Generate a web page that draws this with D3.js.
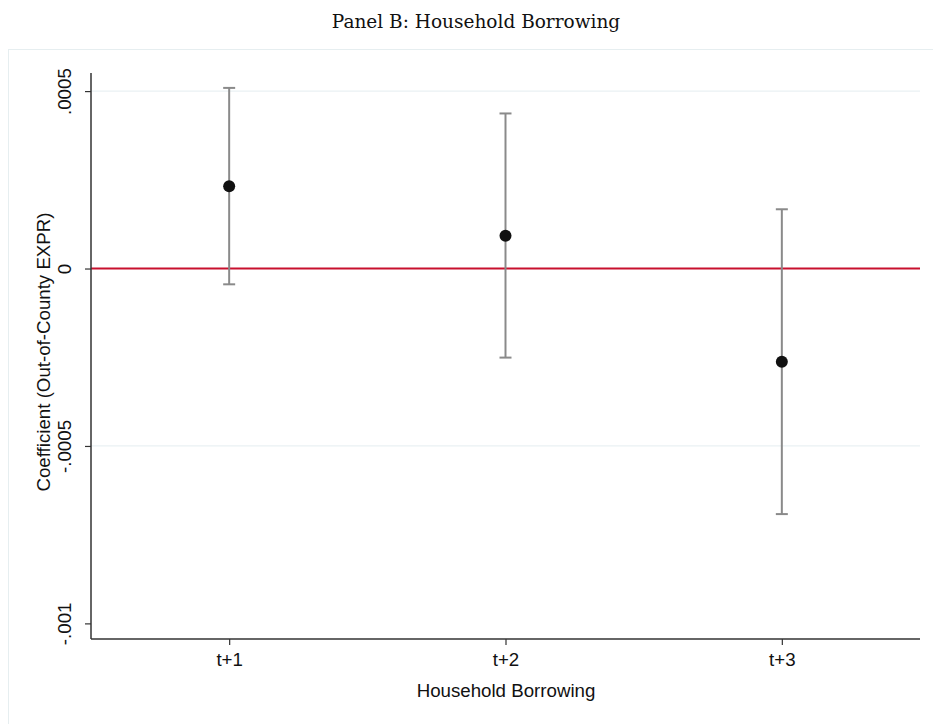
<!DOCTYPE html>
<html><head><meta charset="utf-8">
<script src="https://cdn.jsdelivr.net/npm/d3@7"></script>
<style>body{margin:0;background:#fff}</style>
</head><body>
<svg id="chart" width="933" height="724"></svg>
<script>
const categories = ["t+1", "t+2", "t+3"];
const estimates = [0.000232, 0.0000924, -0.000263];
const ciLow = [-0.0000445, -0.000251, -0.000692];
const ciHigh = [0.000509, 0.000437, 0.000167];
const yTicks = [0.0005, 0, -0.0005, -0.001];
const yTickLabels = [".0005", "0", "-.0005", "-.001"];
const gridTicks = [0.0005, -0.0005];

const SANS = "Liberation Sans, Arial, sans-serif";
const FS = 18.7;
const svg = d3.select("#chart");
svg.append("rect").attr("x", 8.5).attr("y", 49.5).attr("width", 940).attr("height", 700)
  .attr("fill", "#fff").attr("stroke", "#e6eef0").attr("stroke-width", 1);

const x = d3.scalePoint().domain(categories).range([91, 920]).padding(0.5);
const y = d3.scaleLinear().domain([-0.001044, 0.000551]).range([639, 73]);

// grid
svg.append("g").selectAll("line").data(gridTicks).join("line")
  .attr("x1", 91).attr("x2", 920).attr("y1", d => y(d)).attr("y2", d => y(d))
  .attr("stroke", "#eaf1f3").attr("stroke-width", 1.2);

// zero line
svg.append("line").attr("x1", 91).attr("x2", 920).attr("y1", y(0)).attr("y2", y(0))
  .attr("stroke", "#c8102e").attr("stroke-width", 2);

// y axis
const yAxis = svg.append("g").attr("transform", "translate(91,0)")
  .call(d3.axisLeft(y).tickValues(yTicks).tickSize(6).tickFormat((d, i) => yTickLabels[i]));
yAxis.select(".domain").attr("stroke", "#333").attr("stroke-width", 1.5).attr("d", `M0,${y.range()[1]}V${y.range()[0]}`);
yAxis.selectAll(".tick line").attr("stroke", "#333").attr("stroke-width", 1.2);
yAxis.selectAll(".tick text")
  .attr("font-family", SANS).attr("font-size", FS).attr("fill", "#111")
  .attr("transform", "rotate(-90)").attr("x", 0).attr("y", -20).attr("dy", 0)
  .attr("text-anchor", "middle");

// x axis
const xAxis = svg.append("g").attr("transform", "translate(0,639)")
  .call(d3.axisBottom(x).tickSize(6));
xAxis.select(".domain").attr("stroke", "#333").attr("stroke-width", 1.5).attr("d", "M91,0H920");
xAxis.selectAll(".tick line").attr("stroke", "#333").attr("stroke-width", 1.2);
xAxis.selectAll(".tick text")
  .attr("font-family", SANS).attr("font-size", FS).attr("fill", "#111")
  .attr("y", 27).attr("dy", 0);

// CI
const g = svg.append("g");
categories.forEach((c, i) => {
  const cx = x(c);
  g.append("line").attr("x1", cx).attr("x2", cx).attr("y1", y(ciLow[i])).attr("y2", y(ciHigh[i]))
    .attr("stroke", "#8a8a8a").attr("stroke-width", 2);
  [ciLow[i], ciHigh[i]].forEach(v => {
    g.append("line").attr("x1", cx - 6).attr("x2", cx + 6).attr("y1", y(v)).attr("y2", y(v))
      .attr("stroke", "#8a8a8a").attr("stroke-width", 2);
  });
});
g.selectAll("circle").data(categories).join("circle")
  .attr("cx", d => x(d)).attr("cy", (d, i) => y(estimates[i])).attr("r", 6)
  .attr("fill", "#111");

// titles
svg.append("text").attr("x", 476).attr("y", 27.5).attr("text-anchor", "middle")
  .attr("font-family", "DejaVu Serif, serif").attr("font-size", 18.5).attr("fill", "#111")
  .text("Panel B: Household Borrowing");
svg.append("text").attr("x", 506).attr("y", 697).attr("text-anchor", "middle")
  .attr("font-family", SANS).attr("font-size", FS).attr("fill", "#111")
  .text("Household Borrowing");
svg.append("text").attr("transform", "translate(50,352) rotate(-90)").attr("text-anchor", "middle")
  .attr("font-family", SANS).attr("font-size", FS).attr("fill", "#111")
  .text("Coefficient (Out-of-County EXPR)");
</script>
</body></html>
